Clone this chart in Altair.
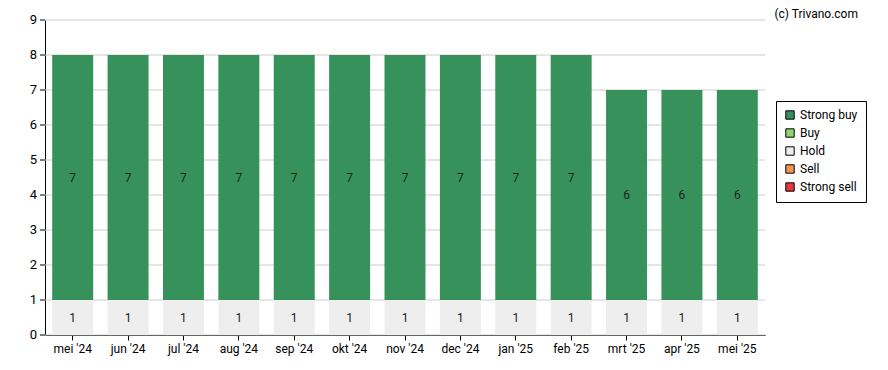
import altair as alt
import pandas as pd

months = ["mei '24", "jun '24", "jul '24", "aug '24", "sep '24", "okt '24", "nov '24",
          "dec '24", "jan '25", "feb '25", "mrt '25", "apr '25", "mei '25"]
strong_buy = [7, 7, 7, 7, 7, 7, 7, 7, 7, 7, 6, 6, 6]
buy = [0] * 13
hold = [1] * 13
sell = [0] * 13
strong_sell = [0] * 13
y_ticks = [0, 1, 2, 3, 4, 5, 6, 7, 8, 9]

cats = ["Strong buy", "Buy", "Hold", "Sell", "Strong sell"]
colors = ["#36925a", "#92d36e", "#eeeeee", "#f7935a", "#e8383d"]
series = {"Strong buy": strong_buy, "Buy": buy, "Hold": hold, "Sell": sell, "Strong sell": strong_sell}
stack_rank = {"Strong sell": 0, "Sell": 1, "Hold": 2, "Buy": 3, "Strong buy": 4}

rows = []
for c in cats:
    for m, v in zip(months, series[c]):
        rows.append({"month": m, "cat": c, "value": v, "rank": stack_rank[c]})
df = pd.DataFrame(rows)
ticks_df = pd.DataFrame({"v": y_ticks})

FONT = "Roboto"

base = alt.Chart(df).transform_filter("datum.value > 0").transform_stack(
    stack="value", groupby=["month"], as_=["y0", "y1"], sort=[alt.SortField("rank", order="ascending")]
).transform_calculate(mid="(datum.y0 + datum.y1) / 2")

x_axis = alt.Axis(labelAngle=0, labelFont=FONT, labelFontSize=12, labelColor="#000",
                  domainColor="#000", tickColor="#000", tickSize=5, labelPadding=3, grid=False)
y_axis = alt.Axis(labels=False, ticks=False, grid=False, domain=True, domainColor="#000")
y_scale = alt.Scale(domain=[0, 9], nice=False, zero=True)
x_scale = alt.Scale(paddingInner=0.26, paddingOuter=0.13)

grid = alt.Chart(ticks_df).mark_rule(color="#cccccc", strokeWidth=1).encode(
    y=alt.Y("v:Q", scale=y_scale, title=None, axis=y_axis),
    x=alt.value(0), x2=alt.value(720),
)
tick_marks = alt.Chart(ticks_df).mark_rule(color="#000", strokeWidth=1).encode(
    y=alt.Y("v:Q", scale=y_scale, title=None, axis=y_axis),
    x=alt.value(-5), x2=alt.value(0),
)
tick_labels = alt.Chart(ticks_df).mark_text(
    font=FONT, fontSize=13, color="#000", align="right", baseline="middle"
).encode(
    y=alt.Y("v:Q", scale=y_scale, title=None, axis=y_axis),
    x=alt.value(-8), text=alt.Text("v:Q"),
)

bars = base.mark_bar().encode(
    x=alt.X("month:N", sort=months, title=None, scale=x_scale, axis=x_axis),
    y=alt.Y("y0:Q", scale=y_scale, title=None, axis=y_axis),
    y2="y1:Q",
    color=alt.Color("cat:N", scale=alt.Scale(domain=cats, range=colors),
                    legend=alt.Legend(title=None, orient="none", legendX=731, legendY=81,
                                      symbolType="square", symbolStrokeColor="#000", symbolStrokeWidth=1,
                                      symbolSize=70, labelFont=FONT, labelFontSize=12, labelColor="#000",
                                      strokeColor="#000", padding=8, rowPadding=4, fillColor="#fff",
                                      labelLimit=200)),
)

labels = base.mark_text(font=FONT, fontSize=12, color="#222").encode(
    x=alt.X("month:N", sort=months, title=None, scale=x_scale, axis=x_axis),
    y=alt.Y("mid:Q", scale=y_scale, title=None, axis=y_axis),
    text=alt.Text("value:Q"),
)

credit = alt.Chart(pd.DataFrame({"t": ["(c) Trivano.com"]})).mark_text(
    font=FONT, fontSize=12, color="#000", align="right", baseline="top"
).encode(x=alt.value(813), y=alt.value(-11.5), text="t:N")

chart = alt.layer(grid, bars, labels, tick_marks, tick_labels, credit).properties(
    width=720, height=315,
    autosize=alt.AutoSizeParams(type="none"),
    padding={"left": 37, "top": 12, "right": 115, "bottom": 27},
).configure_view(stroke=None)

chart.save("out.html", embed_options={"renderer": "svg", "actions": False})
